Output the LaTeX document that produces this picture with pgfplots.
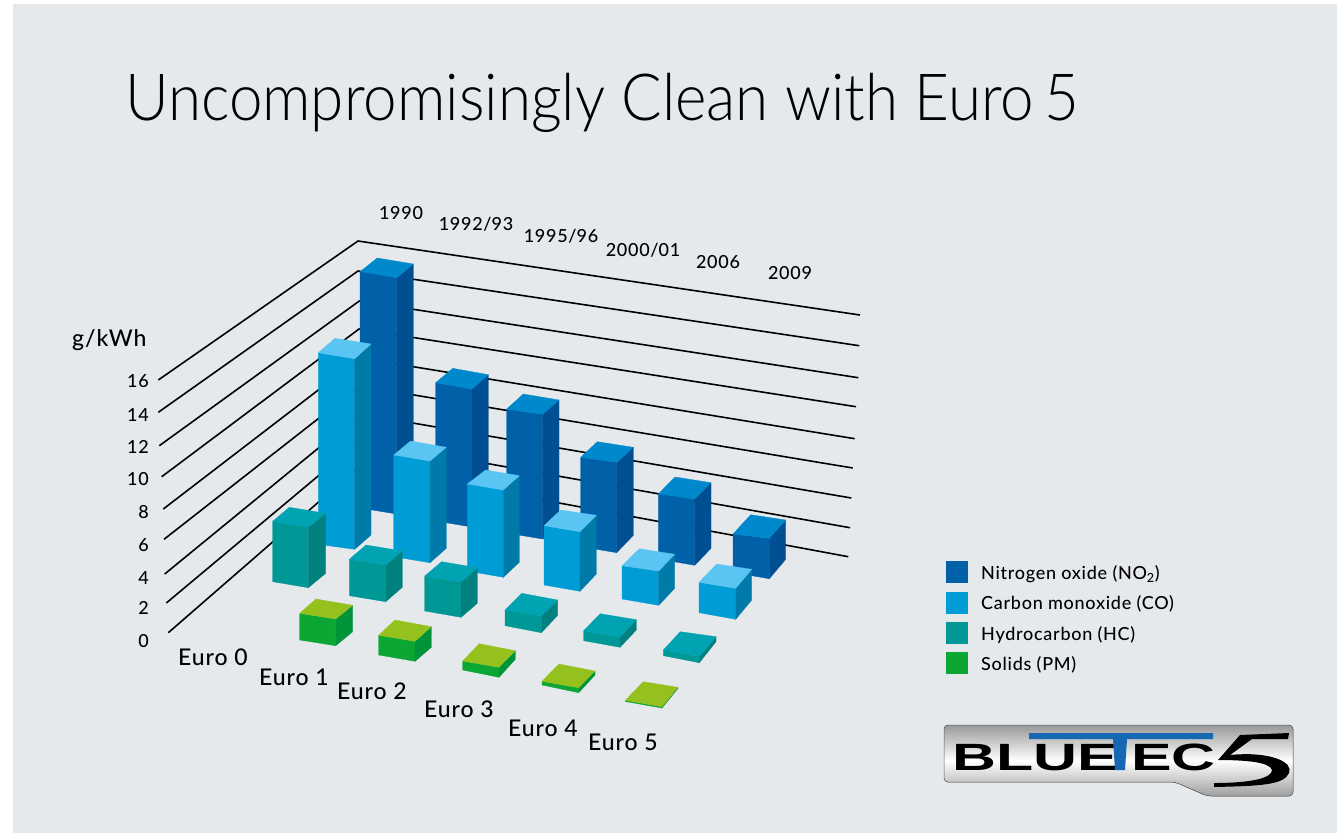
\documentclass[border=0pt]{standalone}
\usepackage{pgfplots}
\usepackage{fontspec}
\pgfplotsset{compat=1.18}
\setmainfont[LetterSpace=4]{Lato Medium}
\newfontfamily\titlefont{Lato Light}
\newfontfamily\logofont{Liberation Sans Bold}
\definecolor{bg}{RGB}{230,233,236}
\definecolor{NOxF}{RGB}{0,96,168}\definecolor{NOxS}{RGB}{0,79,146}\definecolor{NOxT}{RGB}{0,136,204}
\definecolor{COF}{RGB}{0,156,214}\definecolor{COS}{RGB}{0,122,168}\definecolor{COT}{RGB}{90,197,242}
\definecolor{HCF}{RGB}{0,152,150}\definecolor{HCS}{RGB}{0,128,127}\definecolor{HCT}{RGB}{0,163,178}
\definecolor{PMF}{RGB}{11,166,52}\definecolor{PMS}{RGB}{0,148,56}\definecolor{PMT}{RGB}{149,193,31}
\definecolor{logoblue}{RGB}{22,104,178}
% #1 colour prefix; top FL, FR, BR, BL; bottom FL, FR, BR
\newcommand\cuboid[8]{%
  \addplot[fill=#1F,draw=#1F,line width=.3pt] coordinates {(#2)(#3)(#7)(#6)} --cycle;
  \addplot[fill=#1S,draw=#1S,line width=.3pt] coordinates {(#3)(#4)(#8)(#7)} --cycle;
  \addplot[fill=#1T,draw=#1T,line width=.3pt] coordinates {(#2)(#3)(#4)(#5)} --cycle;
}
\newcommand\grid[3]{\addplot[black,line width=1.6pt,line join=miter] coordinates {(#1)(#2)(#3)};}
\begin{document}
\begin{tikzpicture}
\begin{axis}[width=1337pt,height=833pt,scale only axis,xmin=0,xmax=1337,ymin=0,ymax=833,
  y dir=reverse,hide axis,clip=false]
\addplot[fill=white,draw=none] coordinates {(0,0)(1337,0)(1337,833)(0,833)} --cycle;
\addplot[fill=bg,draw=none] coordinates {(13,4)(1337,4)(1337,833)(13,833)} --cycle;
% grid
\grid{168.3,632.7}{360,466}{848.3,556.7}
\grid{166.3,603}{360,441}{850,527.7}
\grid{164.7,574}{360,414}{851.3,498}
\grid{164,539.3}{360,386}{852.7,468}
\grid{163.3,509}{360,358}{854.7,438.7}
\grid{161.7,476.7}{359,329}{856,406.7}
\grid{159.3,445.7}{359.3,301}{858.3,377.7}
\grid{158.3,412.3}{358,271}{859.3,345.7}
\grid{158.3,380}{358,241}{860,315}
% Nitrogen oxide
\cuboid{NOx}{360,271.7}{396.7,277.7}{413.3,264}{377.3,258}{360,508}{396.7,514}{413.3,500}
\cuboid{NOx}{435.7,382.7}{472,389}{488.3,374.7}{452.7,368.3}{435.7,521}{472,527}{488.3,513}
\cuboid{NOx}{506.7,409}{542.7,414.3}{559,400}{523.3,394}{506.7,533}{542.7,539}{559,525}
\cuboid{NOx}{580.7,457.3}{616.7,462.3}{633.3,447.3}{597.3,441.7}{580.7,546.5}{616.7,552.7}{633.3,535.3}
\cuboid{NOx}{658.3,494}{694.7,499}{711,482.7}{675,477}{658.3,559}{694.7,565.3}{711,548.3}
\cuboid{NOx}{733,534}{769.3,538.3}{785.7,520}{750.7,514.7}{733,572.5}{769.3,578.7}{785.7,559.3}
% Carbon monoxide
\cuboid{CO}{318.3,352.7}{354.7,358.7}{371,344}{335,338.3}{318.3,544.3}{354.7,549.3}{371,535}
\cuboid{CO}{393.7,455}{430,461}{446.3,447.3}{410.7,441}{393.7,556.7}{430,562.7}{446.3,548.3}
\cuboid{CO}{467.3,484}{503.3,490}{519.3,475.7}{485.7,470}{467.3,571}{503.3,577.3}{519.3,562.3}
\cuboid{CO}{544,525.7}{580,531.7}{596.3,515.3}{560.7,510}{544,585}{580,591.3}{596.3,574}
\cuboid{CO}{622,565.7}{658.7,571}{674.7,554.3}{639.3,548.7}{622,599}{658.7,605.3}{674.7,588.3}
\cuboid{CO}{699,582.3}{735.7,588.3}{751.7,569.3}{716.7,564}{699,612.7}{735.7,619.3}{751.7,600}
% Hydrocarbon
\cuboid{HC}{272.7,521.3}{308.3,527.3}{325.7,513.3}{289.3,507.3}{272.7,581.7}{308.3,587.7}{325.7,573.3}
\cuboid{HC}{349.3,559.3}{385.7,565}{402.3,551}{366,545}{349.3,595.7}{385.7,601.7}{402.3,587.3}
\cuboid{HC}{424.7,576}{461,582}{477.3,567.7}{441.7,561.7}{424.7,611}{461,617.3}{477.3,603.3}
\cuboid{HC}{505,610}{541.3,616}{557.7,600}{521.7,593.3}{505,625.7}{541.3,632.7}{557.7,615.3}
\cuboid{HC}{583.7,630.7}{620,637}{636.3,619.7}{600.3,613.7}{583.7,640.7}{620,647.3}{636.3,630}
\cuboid{HC}{663.3,650}{699.3,656.3}{716,636.7}{680.3,631.7}{663.3,655.7}{699.3,662.7}{716,641.7}
% Solids
\cuboid{PM}{299.7,613.3}{335.7,619}{352.7,605.3}{316,599}{299.7,640}{335.7,645.7}{352.7,631.7}
\cuboid{PM}{378.7,635.3}{415,641.3}{431.3,626.7}{395,620}{378.7,655}{415,661.3}{431.3,647.3}
\cuboid{PM}{462.7,661}{499,667.3}{515.3,650.7}{479.3,643.7}{462.7,670}{499,677.3}{515.3,659.3}
\cuboid{PM}{542,681.3}{578.7,687.7}{595,671}{559,664}{542,685}{578.7,692.7}{595,675}
\cuboid{PM}{625.3,700.3}{662,706.7}{678,687.3}{643.3,681.7}{625.3,701.5}{662,708}{678,688.3}
% legend swatches
\addplot[fill=NOxF,draw=none] coordinates {(946,561)(968,561)(968,583)(946,583)} --cycle;
\addplot[fill=COF,draw=none] coordinates {(946,592)(968,592)(968,614)(946,614)} --cycle;
\addplot[fill=HCF,draw=none] coordinates {(946,622)(968,622)(968,644)(946,644)} --cycle;
\addplot[fill=PMF,draw=none] coordinates {(946,652)(968,652)(968,674)(946,674)} --cycle;
% title
\node[anchor=base west,inner sep=0pt,font=\titlefont\fontsize{65}{70}\selectfont,xscale=0.925] at (axis cs:125,120) {Uncompromisingly Clean with Euro\,5};
% labels
\node[anchor=base west,inner sep=0pt,font=\fontsize{23}{24}\selectfont] at (axis cs:72,346) {g/kWh};
\foreach \t/\yy in {16/387.5,14/421.5,12/453.5,10/485.5,8/518.5,6/551.5,4/584.5,2/614.5,0/647.5}{
  \edef\temp{\noexpand\node[anchor=base east,inner sep=0pt,font=\noexpand\fontsize{18}{20}\noexpand\selectfont] at (axis cs:149,\yy) {\t};}\temp}
\foreach \t/\xx/\yy in {1990/401/219,1992\slash 93/476/230,1995\slash 96/561/242,2000\slash 01/643/256,2006/718/268,2009/790/279}{
  \edef\temp{\noexpand\node[anchor=base,inner sep=0pt,font=\noexpand\fontsize{18}{19}\noexpand\selectfont] at (axis cs:\xx,\yy) {\t};}\temp}
\foreach \t/\xx/\yy in {0/213/665,1/294/685,2/372/699,3/459/717,4/543/736,5/623/750}{
  \edef\temp{\noexpand\node[anchor=base,inner sep=0pt,font=\noexpand\fontsize{23}{23}\noexpand\selectfont] at (axis cs:\xx,\yy) {Euro \t};}\temp}
\node[anchor=base west,inner sep=0pt,font=\fontsize{18}{19}\selectfont] at (axis cs:981,579.5) {Nitrogen oxide (NO\textsubscript{2})};
\node[anchor=base west,inner sep=0pt,font=\fontsize{18}{19}\selectfont] at (axis cs:981,609.5) {Carbon monoxide (CO)};
\node[anchor=base west,inner sep=0pt,font=\fontsize{18}{19}\selectfont] at (axis cs:981,640.5) {Hydrocarbon (HC)};
\node[anchor=base west,inner sep=0pt,font=\fontsize{18}{19}\selectfont] at (axis cs:981,670.5) {Solids (PM)};
% logo
\fill[top color=gray!80,bottom color=gray!75,middle color=white,draw=gray!70!black,line width=.5pt,rounded corners=4pt]
  (axis cs:944,725)--(axis cs:1293,725)--(axis cs:1293,796)--(axis cs:1207,796)--(axis cs:1175,782)--(axis cs:944,782)--cycle;
\node[anchor=base west,inner sep=0pt,font=\logofont\fontsize{38}{38}\selectfont,xscale=1.6] at (axis cs:952,770) {BLUE};
\node[anchor=base west,inner sep=0pt,font=\logofont\fontsize{38}{38}\selectfont,xscale=1.6] at (axis cs:1131,770) {EC};
\fill[logoblue] (axis cs:1029,733)--(axis cs:1213,733)--(axis cs:1213,739)--(axis cs:1127,739)--(axis cs:1125,770)--(axis cs:1115,770)--(axis cs:1113,739)--(axis cs:1029,739)--cycle;
\fill[black] (axis cs:1289,733)--(axis cs:1288,739)--(axis cs:1252,739)--(axis cs:1230,755)
  .. controls (axis cs:1270,751) and (axis cs:1294,762) .. (axis cs:1289,773)
  .. controls (axis cs:1284,785) and (axis cs:1260,786) .. (axis cs:1214,787)
  --(axis cs:1214,783)
  .. controls (axis cs:1252,783) and (axis cs:1272,778) .. (axis cs:1272,770)
  .. controls (axis cs:1270,762) and (axis cs:1245,760) .. (axis cs:1218,760)--(axis cs:1240,735)--cycle;
\end{axis}
\end{tikzpicture}
\end{document}
